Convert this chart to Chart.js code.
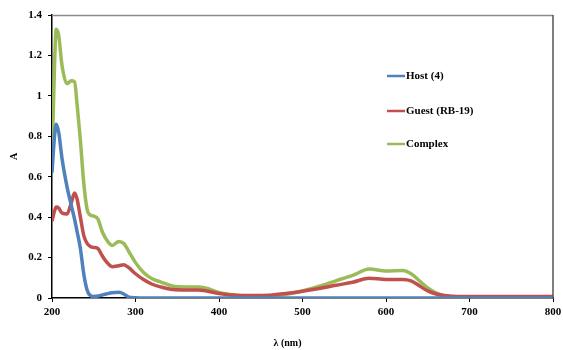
<!DOCTYPE html>
<html>
<head>
<meta charset="utf-8">
<script src="https://cdn.jsdelivr.net/npm/chart.js@4/dist/chart.umd.min.js"></script>
<style>
  html, body { margin: 0; padding: 0; background: #fff; }
  #wrap { width: 563px; height: 350px; position: relative; }
</style>
</head>
<body>
<div id="wrap"><canvas id="c" width="563" height="350"></canvas></div>
<script>
// Wavelength grid (nm) shared by all spectra
const wavelengths = [200, 203, 205, 208, 212, 218, 223, 227, 230, 234, 238, 242, 246, 250, 255, 260, 265, 272, 280, 286, 292, 300, 310, 320, 330, 345, 360, 375, 385, 400, 420, 440, 460, 480, 500, 520, 540, 560, 580, 600, 620, 630, 640, 650, 660, 670, 680, 690, 700, 750, 800];

// Absorbance of the host alone
const hostValues = [0.62, 0.80, 0.86, 0.82, 0.69, 0.55, 0.46, 0.39, 0.33, 0.245, 0.12, 0.04, 0.012, 0.008, 0.010, 0.015, 0.020, 0.026, 0.028, 0.020, 0.004, 0.001, 0, 0, 0, 0, 0, 0, 0, 0, 0, 0, 0, 0, 0, 0, 0, 0, 0, 0, 0, 0, 0, 0, 0, 0, 0, 0, 0, 0, 0];

// Absorbance of the guest dye
const guestValues = [0.38, 0.43, 0.45, 0.445, 0.42, 0.415, 0.47, 0.52, 0.49, 0.40, 0.31, 0.27, 0.255, 0.25, 0.245, 0.21, 0.18, 0.155, 0.16, 0.165, 0.15, 0.12, 0.09, 0.068, 0.055, 0.042, 0.040, 0.040, 0.035, 0.022, 0.013, 0.012, 0.014, 0.022, 0.033, 0.047, 0.063, 0.078, 0.098, 0.092, 0.092, 0.085, 0.060, 0.035, 0.020, 0.012, 0.009, 0.008, 0.008, 0.008, 0.008];

// Absorbance of the host-guest complex
const complexValues = [0.68, 1.15, 1.33, 1.30, 1.15, 1.06, 1.075, 1.07, 0.96, 0.78, 0.57, 0.44, 0.41, 0.405, 0.39, 0.33, 0.29, 0.26, 0.28, 0.27, 0.23, 0.175, 0.125, 0.095, 0.080, 0.058, 0.055, 0.055, 0.048, 0.027, 0.014, 0.008, 0.010, 0.018, 0.035, 0.058, 0.085, 0.112, 0.143, 0.134, 0.136, 0.120, 0.085, 0.050, 0.025, 0.010, 0.004, 0.002, 0.002, 0.002, 0.002];

const seriesNames = ['Host (4)', 'Guest (RB-19)', 'Complex'];
const seriesColors = ['#4F81BD', '#C0504D', '#9BBB59'];

const xTicks = [200, 300, 400, 500, 600, 700, 800];
const yTicks = [0, 0.2, 0.4, 0.6, 0.8, 1, 1.2, 1.4];

const FONT = '"Liberation Serif", "Times New Roman", serif';

function toPoints(vals) {
  return wavelengths.map((w, i) => ({ x: w, y: vals[i] }));
}

const seriesValues = [hostValues, guestValues, complexValues];

// Draw the frame (gray top/right), the in-plot legend and the x-axis title
const decorations = {
  id: 'decorations',
  afterDraw(chart) {
    const ctx = chart.ctx;
    const a = chart.chartArea;
    ctx.save();
    ctx.strokeStyle = '#8c8c8c';
    ctx.lineWidth = 1.5;
    ctx.beginPath();
    ctx.moveTo(a.left, a.top + 0.5);
    ctx.lineTo(a.right, a.top + 0.5);
    ctx.stroke();
    ctx.strokeStyle = '#555';
    ctx.beginPath();
    ctx.moveTo(a.right, a.top);
    ctx.lineTo(a.right, a.bottom);
    ctx.stroke();

    // legend
    ctx.font = 'bold 11px ' + FONT;
    ctx.textBaseline = 'middle';
    ctx.textAlign = 'left';
    const lx = 387, ly = [76, 111, 144];
    chart.data.datasets.forEach((ds, i) => {
      ctx.strokeStyle = ds.borderColor;
      ctx.lineWidth = 2.5;
      ctx.beginPath();
      ctx.moveTo(lx, ly[i]);
      ctx.lineTo(lx + 18, ly[i]);
      ctx.stroke();
      ctx.fillStyle = '#000';
      ctx.fillText(ds.label, lx + 19, ly[i]);
    });

    // x-axis title
    ctx.font = 'bold 10px ' + FONT;
    ctx.textAlign = 'center';
    ctx.fillText('λ (nm)', (a.left + a.right) / 2 - 15, 343);
    ctx.restore();
  }
};

new Chart(document.getElementById('c'), {
  type: 'line',
  data: {
    datasets: seriesNames.map((name, i) => ({
      label: name,
      data: toPoints(seriesValues[i]),
      borderColor: seriesColors[i],
      backgroundColor: seriesColors[i],
      borderWidth: 3.5,
      pointRadius: 0,
      cubicInterpolationMode: 'monotone',
      fill: false
    }))
  },
  options: {
    responsive: false,
    animation: false,
    layout: { padding: { top: 15, right: 0, left: 0, bottom: 0 } },
    plugins: { legend: { display: false }, tooltip: { enabled: false } },
    scales: {
      x: {
        type: 'linear',
        min: 200, max: 800,
        afterBuildTicks(scale) { scale.ticks = xTicks.map(v => ({ value: v })); },
        afterFit(scale) { scale.height = 52; scale.paddingRight = 10; },
        grid: { drawOnChartArea: false, tickLength: 4, color: '#000', tickColor: '#000' },
        border: { color: '#000', width: 1.5 },
        ticks: { color: '#000', font: { family: FONT, size: 11, weight: 'bold' }, padding: 4, maxRotation: 0, autoSkip: false }
      },
      y: {
        min: 0, max: 1.4,
        afterBuildTicks(scale) { scale.ticks = yTicks.map(v => ({ value: v })); },
        afterFit(scale) { scale.width = 52; },
        grid: { drawOnChartArea: false, tickLength: 4, color: '#000', tickColor: '#000' },
        border: { color: '#000', width: 1.5 },
        ticks: { color: '#000', font: { family: FONT, size: 11, weight: 'bold' }, padding: 6, callback: v => String(Math.round(v * 10) / 10) },
        title: { display: true, text: 'A', color: '#000', font: { family: FONT, size: 10, weight: 'bold' }, padding: { top: 8, bottom: 0 } }
      }
    }
  },
  plugins: [decorations]
});
</script>
</body>
</html>
